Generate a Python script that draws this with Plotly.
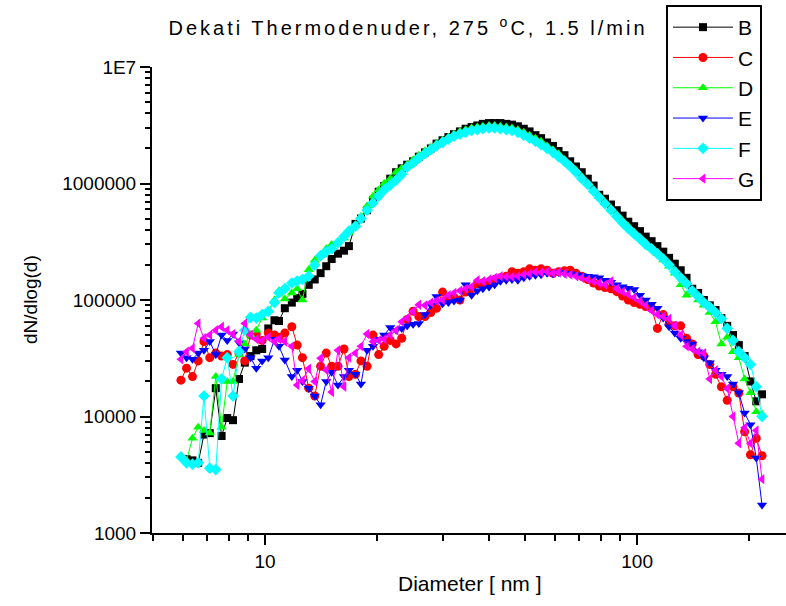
import plotly.graph_objects as go

# Diameter channels [nm] (SMPS, 64 channels/decade)
diameter_nm = [5.94, 6.15, 6.38, 6.61, 6.85, 7.10, 7.37, 7.64, 7.91, 8.20,
               8.51, 8.82, 9.14, 9.47, 9.82, 10.2, 10.6, 10.9, 11.3, 11.8,
               12.2, 12.6, 13.1, 13.6, 14.1, 14.6, 15.1, 15.7, 16.3, 16.8,
               17.5, 18.1, 18.8, 19.5, 20.2, 20.9, 21.7, 22.5, 23.3, 24.1,
               25.0, 25.9, 26.9, 27.9, 28.9, 30.0, 31.1, 32.2, 33.4, 34.6,
               35.9, 37.2, 38.5, 40.0, 41.4, 42.9, 44.5, 46.1, 47.8, 49.6,
               51.4, 53.3, 55.2, 57.3, 59.4, 61.5, 63.8, 66.1, 68.5, 71.0,
               73.7, 76.4, 79.1, 82.0, 85.1, 88.2, 91.4, 94.7, 98.2, 101.8,
               105.5, 109.4, 113.4, 117.6, 121.9, 126.3, 131.0, 135.8, 140.7, 145.9,
               151.2, 156.8, 162.5, 168.5, 174.7, 181.1, 187.7, 194.6, 201.7, 209.1,
               216.7]

B = [None, 4300, 4200, 4000, 7000, 7200, 17500, 6800, 9700, 9300,
     21000, 29000, 33000, 37000, 38000, 57000, 67000, 66000, 85000, 95000,
     104000, 113000, 135000, 150000, 170000, 195000, 225000, 250000, 265000, 290000,
     450000, 500000, 590000, 720000, 850000, 950000, 1.1e6, 1.25e6, 1.35e6, 1.45e6,
     1.55e6, 1.7e6, 1.85e6, 2.0e6, 2.2e6, 2.35e6, 2.5e6, 2.65e6, 2.8e6, 2.95e6,
     3.05e6, 3.15e6, 3.25e6, 3.3e6, 3.3e6, 3.3e6, 3.25e6, 3.2e6, 3.1e6, 2.95e6,
     2.8e6, 2.6e6, 2.45e6, 2.25e6, 2.1e6, 1.9e6, 1.75e6, 1.55e6, 1.4e6, 1.25e6,
     1.1e6, 9.6e5, 8.0e5, 7.4e5, 6.6e5, 5.9e5, 5.3e5, 4.7e5, 4.3e5, 3.9e5,
     3.5e5, 3.2e5, 2.9e5, 2.6e5, 2.3e5, 2.05e5, 1.8e5, 1.55e5, 1.25e5, 1.15e5,
     1.0e5, 9.0e4, 8.2e4, 7.0e4, 6.0e4, 5.0e4, 4.1e4, 3.3e4, 2.0e4, 1.35e4,
     1.55e4]

C = [20500, 26000, 22000, 30000, 44000, 32000, 35000, 33000, 34000, 28000,
     35000, 30000, 50000, 51000, 45000, 52000, 50000, 48000, 52000, 59000,
     41000, 32000, 17500, 15000, 27000, 35000, 27000, 27000, 38000, 22000,
     23000, 30000, 27000, 50000, 34000, 40000, 45000, 42000, 47000, 68000,
     80000, 72000, 72000, 78000, 85000, 117000, 102000, 105000, 100000, 117000,
     125000, 138000, 140000, 138000, 150000, 155000, 160000, 175000, 170000, 175000,
     185000, 180000, 185000, 180000, 170000, 175000, 178000, 180000, 170000, 160000,
     150000, 140000, 132000, 128000, 125000, 118000, 108000, 100000, 95000, 92000,
     88000, 85000, 57000, 75000, 62000, 60000, 60000, 47000, 42000, 34000,
     33000, 28000, 23000, 18000, 13800, 18000, 15900, 7400, 4700, 6500,
     4600]

D = [None, 4200, 6500, 8100, 7600, 7200, 22000, 8100, 20000, 20000,
     34000, 42000, 50000, 55000, 70000, 81000, 100000, 120000, 102000, 115000,
     125000, 100000, 182000, 219000, 240000, 275000, 300000, 316000, 340000, 380000,
     437000, 520000, 640000, 776000, 880000, 1.0e6, 1.1e6, 1.25e6, 1.35e6, 1.45e6,
     1.6e6, 1.75e6, 1.9e6, 2.05e6, 2.2e6, 2.35e6, 2.5e6, 2.65e6, 2.8e6, 2.9e6,
     3.0e6, 3.05e6, 3.1e6, 3.15e6, 3.15e6, 3.1e6, 3.05e6, 3.0e6, 2.9e6, 2.75e6,
     2.6e6, 2.45e6, 2.3e6, 2.1e6, 1.95e6, 1.8e6, 1.6e6, 1.45e6, 1.3e6, 1.15e6,
     1.0e6, 8.8e5, 7.8e5, 6.9e5, 6.1e5, 5.4e5, 4.8e5, 4.3e5, 3.8e5, 3.4e5,
     3.1e5, 2.8e5, 2.5e5, 2.2e5, 1.95e5, 1.7e5, 1.35e5, 1.1e5, 1.15e5, 1.0e5,
     9.0e4, 7.8e4, 6.5e4, 4.2e4, 4.8e4, 3.6e4, 3.2e4, 2.1e4, 1.6e4, 1.1e4,
     1.05e4]

E = [35000, 32000, 31000, 35000, 37000, 44000, 34000, 50000, 45000, 51000,
     43000, 38000, 32000, 26000, 30000, 32000, 46000, 40000, 30500, 22000,
     25000, 20000, 17500, 15000, 12600, 20000, 24000, 18600, 22000, 25000,
     23000, 19000, 37000, 40000, 46000, 50000, 58000, 55000, 57000, 60000,
     62000, 63000, 75000, 90000, 107000, 93000, 95000, 98000, 100000, 135000,
     110000, 120000, 125000, 129000, 135000, 145000, 148000, 150000, 148000, 155000,
     160000, 163000, 165000, 170000, 168000, 172000, 170000, 168000, 165000, 162000,
     160000, 158000, 155000, 148000, 142000, 135000, 130000, 126000, 123000, 110000,
     100000, 92000, 85000, 70000, 59000, 52000, 47000, 44000, 42000, 36000,
     32000, 29000, 25000, 23000, 22000, 19000, 16000, 10700, 8500, 4400,
     1740]

F = [4500, 4000, 3900, 4000, 15000, 3600, 3500, 21000, 32000, 15000,
     36000, 55000, 71000, 70000, 75000, 80000, 95000, 115000, 125000, 140000,
     145000, 150000, 160000, 200000, 240000, 260000, 275000, 310000, 350000, 390000,
     430000, 500000, 590000, 680000, 780000, 880000, 970000, 1.07e6, 1.2e6, 1.38e6,
     1.5e6, 1.65e6, 1.8e6, 1.95e6, 2.1e6, 2.25e6, 2.4e6, 2.55e6, 2.65e6, 2.75e6,
     2.85e6, 2.9e6, 2.95e6, 3.0e6, 3.0e6, 2.95e6, 2.9e6, 2.85e6, 2.75e6, 2.6e6,
     2.45e6, 2.3e6, 2.15e6, 2.0e6, 1.85e6, 1.7e6, 1.55e6, 1.4e6, 1.25e6, 1.1e6,
     9.8e5, 8.6e5, 7.6e5, 6.7e5, 5.9e5, 5.2e5, 4.6e5, 4.1e5, 3.7e5, 3.35e5,
     3.0e5, 2.75e5, 2.5e5, 2.25e5, 2.0e5, 1.75e5, 1.55e5, 1.38e5, 1.2e5, 1.07e5,
     9.5e4, 8.7e4, 7.8e4, 6.9e4, 5.7e4, 4.5e4, 3.6e4, 3.2e4, 2.8e4, 1.8e4,
     1.0e4]

G = [31000, 36000, 38500, 63000, 47000, 50000, 55000, 59000, 55000, 51000,
     44000, 63000, 50000, 46000, 45000, 48000, 44000, 46000, 44000, 40000,
     18600, 20400, 25700, 20000, 31600, 25000, 16200, 37000, 18000, 32000,
     35000, 40000, 51000, 44000, 45000, 46000, 50000, 55000, 65000, 70000,
     80000, 91000, 90000, 95000, 98000, 100000, 110000, 115000, 120000, 125000,
     130000, 148000, 145000, 150000, 155000, 160000, 158000, 158000, 160000, 165000,
     168000, 174000, 172000, 175000, 170000, 172000, 168000, 165000, 160000, 155000,
     150000, 145000, 140000, 135000, 145000, 125000, 118000, 112000, 105000, 98000,
     90000, 81000, 75000, 72000, 69000, 60000, 50000, 40000, 38000, 36000,
     35000, 21000, 25000, 22000, 17400, 10000, 5900, 8000, 5900, 7600,
     2900]

series_names = ["B", "C", "D", "E", "F", "G"]
series_values = [B, C, D, E, F, G]
series_colors = ["#000000", "#ff0000", "#00ff00", "#0000ff", "#00ffff", "#ff00ff"]
series_symbols = ["square", "circle", "triangle-up", "triangle-down", "diamond", "triangle-left"]
series_sizes = [8, 9, 9, 9, 9, 9]

y_tick_vals = [1e3, 1e4, 1e5, 1e6, 1e7]
y_tick_text = ["1000", "10000", "100000", "1000000", "1E7"]
x_tick_vals = [10, 100]
x_tick_text = ["10", "100"]

for v in series_values:
    assert len(v) == len(diameter_nm)

fig = go.Figure()
for name, vals, col, sym, sz in zip(series_names, series_values, series_colors,
                                    series_symbols, series_sizes):
    fig.add_trace(go.Scatter(
        x=diameter_nm, y=vals, name=name, mode="lines+markers", connectgaps=True,
        line=dict(color=col, width=1),
        marker=dict(symbol=sym, size=sz, color=col, line=dict(width=0)),
    ))

x_minor = [5, 6, 7, 8, 9, 20, 30, 40, 50, 60, 70, 80, 90, 200]
y_minor = [m * 10 ** e for e in range(3, 7) for m in range(2, 10)]

font_family = "Liberation Sans, Arial, sans-serif"
L, T, W, H = 152, 67, 634, 466

fig.update_layout(
    width=786, height=606,
    margin=dict(l=L, r=786 - L - W, t=T, b=606 - T - H),
    paper_bgcolor="white", plot_bgcolor="white",
    font=dict(family=font_family, color="black", size=19),
    title=dict(text="Dekati Thermodenuder, 275 <sup>o</sup>C, 1.5 l/min",
               x=(408 - L) / W, xref="paper", xanchor="center",
               y=1 - 28 / 606, yref="container", yanchor="middle",
               font=dict(size=20, family=font_family, color="black")),
    legend=dict(x=(666 - L) / W, y=1 + (T - 5) / H, xanchor="left", yanchor="top",
                bordercolor="black", borderwidth=2, bgcolor="white",
                font=dict(size=21, family=font_family, color="black"),
                itemwidth=60, tracegroupgap=0),
    xaxis=dict(type="log", range=[0.696, 0.696 + W / 372.0],
               tickvals=x_tick_vals, ticktext=x_tick_text,
               ticks="outside", ticklen=10, tickwidth=1.5, tickcolor="black",
               showline=True, linewidth=2, linecolor="black",
               showgrid=False, zeroline=False,
               tickfont=dict(size=19),
               minor=dict(tickvals=x_minor, ticks="outside", ticklen=6,
                          tickwidth=1.5, tickcolor="black", showgrid=False)),
    yaxis=dict(type="log", range=[3, 7],
               tickvals=y_tick_vals, ticktext=y_tick_text,
               ticks="outside", ticklen=10, tickwidth=1.5, tickcolor="black",
               showline=True, linewidth=2, linecolor="black",
               showgrid=False, zeroline=False,
               tickfont=dict(size=19),
               minor=dict(tickvals=y_minor, ticks="outside", ticklen=5,
                          tickwidth=1.5, tickcolor="black", showgrid=False)),
    annotations=[
        dict(text="Diameter [ nm ]", xref="paper", yref="paper",
             x=(470 - L) / W, y=-(583 - T - H) / H, xanchor="center", yanchor="middle",
             showarrow=False, font=dict(size=21, family=font_family, color="black")),
        dict(text="dN/dlog(d)", xref="paper", yref="paper",
             x=(30 - L) / W, y=0.5, xanchor="center", yanchor="middle", textangle=-90,
             showarrow=False, font=dict(size=19, family=font_family, color="black")),
    ],
)

# Wider letter spacing of the title, as in the original export
spacing_js = (
    "var s=document.createElement('style');"
    "s.textContent='.gtitle{letter-spacing:3px !important}';"
    "document.head.appendChild(s);"
)

fig.write_html("out.html", post_script=spacing_js)
